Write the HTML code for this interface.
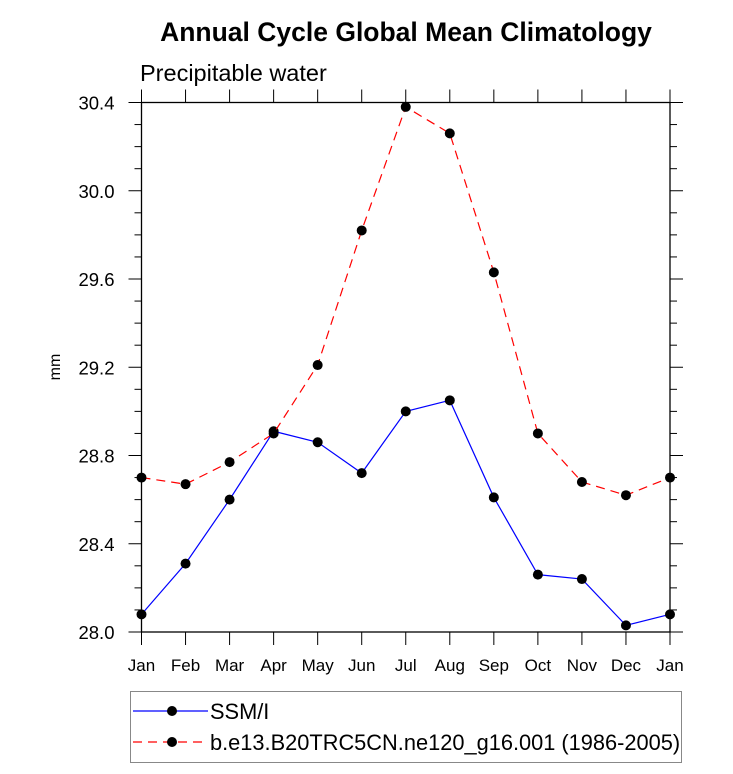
<!DOCTYPE html>
<html><head><meta charset="utf-8"><style>
body{margin:0;background:#fff;}
svg text{font-family:"Liberation Sans",sans-serif;}
</style></head><body>
<svg id="chart" width="733" height="769" xmlns="http://www.w3.org/2000/svg">
<text x="406" y="41" font-size="26.5" font-weight="bold" text-anchor="middle">Annual Cycle Global Mean Climatology</text>
<text x="140" y="81" font-size="23.5">Precipitable water</text>
<text transform="translate(60,367) rotate(-90)" font-size="16" text-anchor="middle">mm</text>
<g id="axes"></g>
<g id="series"></g>
<g>
<rect x="130.5" y="691.5" width="551" height="71" fill="none" stroke="#888" stroke-width="1"/>
<g>
<line x1="133" y1="711" x2="208" y2="711" stroke="#0000ff" stroke-width="1.2"/>
<circle cx="172" cy="711" r="5" fill="#000"/>
<text x="210" y="719" font-size="21.8">SSM/I</text></g>
<g>
<line x1="133" y1="742" x2="208" y2="742" stroke="#ff0000" stroke-width="1.2" stroke-dasharray="9,6"/>
<circle cx="172" cy="742" r="5" fill="#000"/>
<text x="210" y="750" font-size="21.8">b.e13.B20TRC5CN.ne120_g16.001 (1986-2005)</text></g>
</g>
</svg>
<script>
const months=["Jan","Feb","Mar","Apr","May","Jun","Jul","Aug","Sep","Oct","Nov","Dec","Jan"];
const yTicks=[28.0,28.4,28.8,29.2,29.6,30.0,30.4];
const ssmi=[28.08,28.31,28.60,28.91,28.86,28.72,29.00,29.05,28.61,28.26,28.24,28.03,28.08];
const model=[28.70,28.67,28.77,28.90,29.21,29.82,30.38,30.26,29.63,28.90,28.68,28.62,28.70];
const L=141.5,R=670,T=102.5,B=632,ymin=28.0,ymax=30.4;
const xs=i=>L+(R-L)*i/12;
const ys=v=>B-(B-T)*(v-ymin)/(ymax-ymin);
const NS="http://www.w3.org/2000/svg";
function mk(tag,attrs,parent){const e=document.createElementNS(NS,tag);for(const k in attrs)e.setAttribute(k,attrs[k]);parent.appendChild(e);return e;}
const ax=document.getElementById('axes');
let fr=mk('rect',{x:L,y:T,width:R-L,height:B-T,fill:'none',stroke:'#000','stroke-width':1.3},ax);


months.forEach((m,i)=>{const x=xs(i);
 mk('line',{x1:x,y1:B,x2:x,y2:B+13,stroke:'#000'},ax);
 mk('line',{x1:x,y1:T,x2:x,y2:T-13,stroke:'#000'},ax);
 const t=mk('text',{x:x,y:B+39,'font-size':17,'text-anchor':'middle'},ax);t.textContent=m;
 
 
});
for(let v=ymin;v<=ymax+1e-6;v+=0.1){const y=ys(v);const major=Math.abs((v-ymin)/0.4-Math.round((v-ymin)/0.4))<1e-6;
 const len=major?13:7;
 mk('line',{x1:L,y1:y,x2:L-len,y2:y,stroke:'#000'},ax);
 mk('line',{x1:R,y1:y,x2:R+len,y2:y,stroke:'#000'},ax);}
yTicks.forEach(v=>{const t=mk('text',{x:L-27,y:ys(v)+7,'font-size':18.5,'text-anchor':'end'},ax);t.textContent=v.toFixed(1);
 
 });
const sg=document.getElementById('series');
function draw(data,color,dash,name){
 const p=mk('polyline',{points:data.map((v,i)=>xs(i)+','+ys(v)).join(' '),fill:'none',stroke:color,'stroke-width':1.2,'stroke-dasharray':dash},sg);
 
 
 data.forEach((v,i)=>{const c=mk('circle',{cx:xs(i),cy:ys(v),r:5,fill:'#000'},sg);
  
  });
}
draw(ssmi,'#0000ff','none','ssmi');
draw(model,'#ff0000','9,6','model');
</script>
</body></html>
